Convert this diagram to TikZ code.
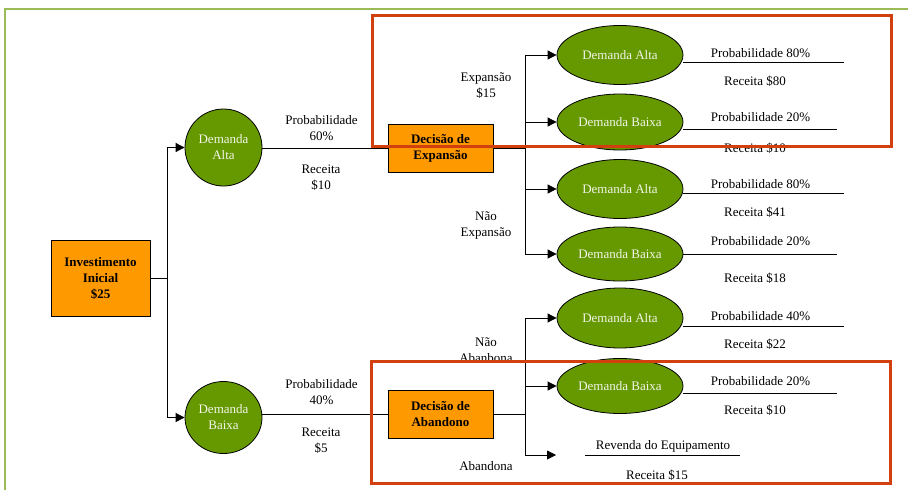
\documentclass[tikz,border=0pt]{standalone}
\usepackage{fontspec}
\setmainfont{Liberation Serif}
\usetikzlibrary{arrows.meta,shapes.geometric}
\definecolor{frameGreen}{HTML}{9BBB59}
\definecolor{nodeGreen}{HTML}{669900}
\definecolor{boxOrange}{HTML}{FF9900}
\definecolor{hiRed}{HTML}{D2400F}
\definecolor{paleText}{HTML}{F2F5E8}
\begin{document}
\begin{tikzpicture}[x=1pt,y=-1pt,
  txt/.style={font=\fontsize{13}{16}\selectfont,align=center,inner sep=0pt},
  decbox/.style={draw=black,line width=0.9pt,fill=boxOrange,rectangle,inner sep=0pt,
    font=\fontsize{13}{16}\selectfont\bfseries,align=center},
  chance/.style={draw=black,line width=0.8pt,fill=nodeGreen,ellipse,inner sep=0pt,
    text=paleText,font=\fontsize{13}{16}\selectfont,align=center},
  outcome/.style={chance,minimum width=126pt},
  link/.style={draw=black,line width=0.8pt},
  arr/.style={link,-{Triangle[length=9pt,width=9pt]}},
  hilite/.style={draw=hiRed,line width=3pt},
  frame/.style={draw=frameGreen,line width=2pt}
]
\useasboundingbox (0,0) rectangle (908,490);
\draw[frame] (5,490) -- (5,9) -- (908,9);

% decision boxes
\node[decbox,minimum width=99pt,minimum height=76pt] (inv) at (100.5,278) {Investimento\\Inicial\\\$25};
\node[decbox,minimum width=105pt,minimum height=48pt] (dx) at (440.5,148) {Decisão de\\Expansão};
\node[decbox,minimum width=105pt,minimum height=48pt] (dab) at (440.5,414) {Decisão de\\Abandono};

% first-stage chance nodes
\node[chance,minimum width=77pt,minimum height=77pt] (da) at (223.5,147.5) {Demanda\\Alta};
\node[chance,minimum width=77pt,minimum height=72pt] (db) at (223.5,417.5) {Demanda\\Baixa};

% second-stage chance nodes
\node[outcome,minimum height=59pt] (e1) at (620,55) {Demanda Alta};
\node[outcome,minimum height=56pt] (e2) at (620,122) {Demanda Baixa};
\node[outcome,minimum height=59pt] (e3) at (620,189) {Demanda Alta};
\node[outcome,minimum height=54pt] (e4) at (620,254) {Demanda Baixa};
\node[outcome,minimum height=60pt] (e5) at (620,318) {Demanda Alta};
\node[outcome,minimum height=55pt] (e6) at (620,386) {Demanda Baixa};

% junctions and branch ends
\coordinate (j1) at (167,278);
\coordinate (j2) at (525,148);
\coordinate (j3) at (525,414);
\coordinate (rev) at (556,455);
\coordinate (t1) at (844,62);
\coordinate (t2) at (837,129);
\coordinate (t3) at (844,193);
\coordinate (t4) at (837,254);
\coordinate (t5) at (844,326);
\coordinate (t6) at (837,393);
\coordinate (rv1) at (585,455);
\coordinate (rv2) at (740,455);

% connectors
\draw[link] (inv) -- (j1);
\draw[arr] (j1) |- (da);
\draw[arr] (j1) |- (db);
\draw[link] (da.east |- dx) -- (dx);
\draw[link] (db.east |- dab) -- (dab);
\draw[link] (dx) -- (j2);
\draw[arr] (j2) |- (e1);
\draw[arr] (j2) |- (e2);
\draw[arr] (j2) |- (e3);
\draw[arr] (j2) |- (e4);
\draw[link] (dab) -- (j3);
\draw[arr] (j3) |- (e5);
\draw[arr] (j3) |- (e6);
\draw[arr] (j3) |- (rev);
\draw[link] (e1.east |- t1) -- (t1);
\draw[link] (e2.east |- t2) -- (t2);
\draw[link] (e3.east |- t3) -- (t3);
\draw[link] (e4.east |- t4) -- (t4);
\draw[link] (e5.east |- t5) -- (t5);
\draw[link] (e6.east |- t6) -- (t6);
\draw[link] (rv1) -- (rv2);

% branch labels
\node[txt] (l1) at (321.5,128.5) {Probabilidade\\60\%};
\node[txt] (l2) at (321,177.5) {Receita\\\$10};
\node[txt] (l3) at (321.5,392) {Probabilidade\\40\%};
\node[txt] (l4) at (321,440.5) {Receita\\\$5};
\node[txt] (l5) at (486,86) {Expansão\\\$15};
\node[txt] (l6) at (486,225.5) {Não\\Expansão};
\node[txt] (l7) at (486,350) {Não\\Abanbona};
\node[txt] (l8) at (486,466) {Abandona};

\node[txt] (p1) at (760.5,53) {Probabilidade 80\%};
\node[txt] (r1) at (755,81) {Receita \$80};
\node[txt] (p2) at (760.5,117) {Probabilidade 20\%};
\node[txt] (r2) at (755,148) {Receita \$10};
\node[txt] (p3) at (760.5,184) {Probabilidade 80\%};
\node[txt] (r3) at (755,212) {Receita \$41};
\node[txt] (p4) at (760.5,241) {Probabilidade 20\%};
\node[txt] (r4) at (755,278) {Receita \$18};
\node[txt] (p5) at (760.5,316) {Probabilidade 40\%};
\node[txt] (r5) at (755,344) {Receita \$22};
\node[txt] (p6) at (760.5,381) {Probabilidade 20\%};
\node[txt] (r6) at (755,410) {Receita \$10};
\node[txt] (rv) at (663,446) {Revenda do Equipamento};
\node[txt] (r7) at (657,475) {Receita \$15};

% highlight frames
\draw[hilite] (372,15) rectangle (891,146);
\draw[hilite] (371,361) rectangle (890,483);
\end{tikzpicture}
\end{document}
